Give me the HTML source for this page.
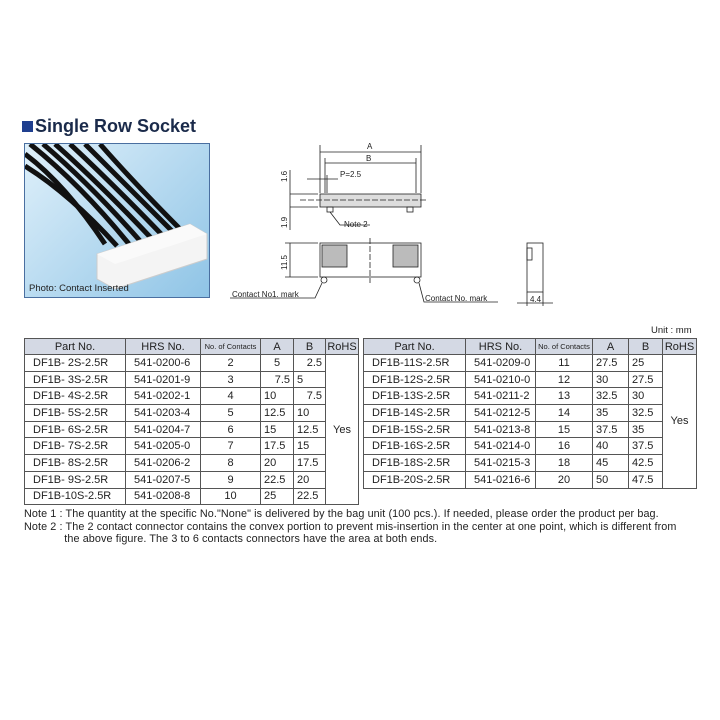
<!DOCTYPE html>
<html><head><style>
body{margin:0;width:720px;height:720px;background:#fff;position:relative;font-family:"Liberation Sans",sans-serif;overflow:hidden}
.t{position:absolute;left:22px;top:116px;font-size:18px;font-weight:bold;color:#1a2a4a}
.t span{display:inline-block;width:11px;height:11px;background:#1f3f8f;margin-right:2px}
.photo{position:absolute;left:24px;top:143px;width:184px;height:153px;border:1px solid #4a6fa0;background:linear-gradient(135deg,#dff0fa,#8fc4e6);overflow:hidden}
.photo .c{position:absolute;left:4px;bottom:3px;font-size:9.5px;color:#222}
table{position:absolute;border-collapse:collapse;font-size:11px;color:#222;table-layout:fixed}
td,th{border:1px solid #555;height:15.7px;padding:0 3px;font-weight:normal;white-space:nowrap;overflow:hidden}
td:first-child{padding-left:8px}
td:nth-child(2){padding-left:8px}
th{background:#d4d9e4;height:15px;padding:0}
.sm{font-size:7.5px}
.n{position:absolute;left:24px;font-size:10.8px;color:#222;white-space:pre;letter-spacing:0.1px}
</style></head><body>
<div class="t"><span></span>Single Row Socket</div>
<div class="photo">
<svg width="184" height="153" style="position:absolute;left:0;top:0">
<g stroke="#111" stroke-width="5" fill="none">
<path d="M0 10 Q40 40 80 100"/><path d="M0 22 Q45 50 92 102"/><path d="M5 0 Q55 40 104 100"/><path d="M18 0 Q65 40 116 98"/><path d="M30 0 Q75 40 128 96"/><path d="M45 0 Q88 40 140 94"/><path d="M60 0 Q100 40 152 92"/><path d="M75 0 Q110 40 160 90"/>
</g>
<polygon points="72,110 165,80 182,90 182,115 90,145 72,135" fill="#f4f4f4" stroke="#ccc"/>
<polygon points="72,110 165,80 182,90 90,120" fill="#fafafa"/>
</svg>
<div class="c">Photo: Contact Inserted</div></div>
<svg width="720" height="720" style="position:absolute;left:0;top:0" font-family="Liberation Sans" font-size="8" fill="#222">
<g stroke="#222" stroke-width="0.8" fill="none">
<line x1="320" y1="145" x2="320" y2="193"/><line x1="421" y1="145" x2="421" y2="193"/>
<line x1="320" y1="152" x2="421" y2="152"/><line x1="325" y1="163" x2="416" y2="163"/>
<line x1="325" y1="158" x2="325" y2="193"/><line x1="416" y1="158" x2="416" y2="193"/>
<line x1="307" y1="179" x2="338" y2="179"/><line x1="327" y1="175" x2="327" y2="193"/>
<rect x="320" y="194" width="101" height="13" fill="#ddd"/>
<line x1="300" y1="200" x2="428" y2="200" stroke-dasharray="6,2"/>
<line x1="290" y1="194" x2="318" y2="194"/><line x1="290" y1="207" x2="318" y2="207"/>
<line x1="290" y1="170" x2="290" y2="230"/>
<rect x="327" y="207" width="6" height="5"/><rect x="407" y="207" width="6" height="5"/>
<polyline points="330,212 340,225 370,225"/>
<rect x="320" y="243" width="101" height="34"/>
<rect x="322" y="245" width="25" height="22" fill="#bbb"/><rect x="393" y="245" width="25" height="22" fill="#bbb"/>
<line x1="370" y1="238" x2="370" y2="283" stroke-dasharray="6,2"/>
<line x1="285" y1="243" x2="318" y2="243"/><line x1="285" y1="277" x2="318" y2="277"/>
<line x1="290" y1="243" x2="290" y2="277"/>
<circle cx="324" cy="280" r="3"/><circle cx="417" cy="280" r="3"/>
<polyline points="322,283 315,298 230,298"/><polyline points="419,283 424,302 498,302"/>
<rect x="527" y="243" width="16" height="49"/><rect x="527" y="248" width="5" height="12"/>
<line x1="527" y1="292" x2="527" y2="306"/><line x1="543" y1="292" x2="543" y2="306"/>
<line x1="517" y1="303" x2="553" y2="303"/>
</g>
<text x="367" y="149">A</text><text x="366" y="161">B</text><text x="340" y="177">P=2.5</text>
<text x="344" y="227">Note 2</text>
<text x="287" y="182" transform="rotate(-90 287 182)">1.6</text>
<text x="287" y="228" transform="rotate(-90 287 228)">1.9</text>
<text x="287" y="270" transform="rotate(-90 287 270)">11.5</text>
<text x="232" y="297">Contact No1. mark</text><text x="425" y="301">Contact No. mark</text>
<text x="530" y="302">4.4</text>
<text x="651" y="333" font-size="9.5">Unit : mm</text>
</svg>
<table style="left:24px;top:338px;width:334px">
<colgroup><col style="width:101px"><col style="width:75px"><col style="width:60px"><col style="width:33px"><col style="width:32px"><col style="width:33px"></colgroup>
<tr><th>Part No.</th><th>HRS No.</th><th class="sm">No. of Contacts</th><th>A</th><th>B</th><th>RoHS</th></tr>
<tr><td>DF1B- 2S-2.5R</td><td>541-0200-6</td><td align="center">2</td><td align="center">5</td><td align="right">2.5</td><td rowspan="9" align="center">Yes</td></tr>
<tr><td>DF1B- 3S-2.5R</td><td>541-0201-9</td><td align="center">3</td><td align="right">7.5</td><td>5</td></tr>
<tr><td>DF1B- 4S-2.5R</td><td>541-0202-1</td><td align="center">4</td><td>10</td><td align="right">7.5</td></tr>
<tr><td>DF1B- 5S-2.5R</td><td>541-0203-4</td><td align="center">5</td><td>12.5</td><td>10</td></tr>
<tr><td>DF1B- 6S-2.5R</td><td>541-0204-7</td><td align="center">6</td><td>15</td><td>12.5</td></tr>
<tr><td>DF1B- 7S-2.5R</td><td>541-0205-0</td><td align="center">7</td><td>17.5</td><td>15</td></tr>
<tr><td>DF1B- 8S-2.5R</td><td>541-0206-2</td><td align="center">8</td><td>20</td><td>17.5</td></tr>
<tr><td>DF1B- 9S-2.5R</td><td>541-0207-5</td><td align="center">9</td><td>22.5</td><td>20</td></tr>
<tr><td>DF1B-10S-2.5R</td><td>541-0208-8</td><td align="center">10</td><td>25</td><td>22.5</td></tr>
</table>
<table style="left:363px;top:338px;width:333px">
<colgroup><col style="width:102px"><col style="width:70px"><col style="width:57px"><col style="width:36px"><col style="width:34px"><col style="width:34px"></colgroup>
<tr><th>Part No.</th><th>HRS No.</th><th class="sm">No. of Contacts</th><th>A</th><th>B</th><th>RoHS</th></tr>
<tr><td>DF1B-11S-2.5R</td><td>541-0209-0</td><td align="center">11</td><td>27.5</td><td>25</td><td rowspan="8" align="center">Yes</td></tr>
<tr><td>DF1B-12S-2.5R</td><td>541-0210-0</td><td align="center">12</td><td>30</td><td>27.5</td></tr>
<tr><td>DF1B-13S-2.5R</td><td>541-0211-2</td><td align="center">13</td><td>32.5</td><td>30</td></tr>
<tr><td>DF1B-14S-2.5R</td><td>541-0212-5</td><td align="center">14</td><td>35</td><td>32.5</td></tr>
<tr><td>DF1B-15S-2.5R</td><td>541-0213-8</td><td align="center">15</td><td>37.5</td><td>35</td></tr>
<tr><td>DF1B-16S-2.5R</td><td>541-0214-0</td><td align="center">16</td><td>40</td><td>37.5</td></tr>
<tr><td>DF1B-18S-2.5R</td><td>541-0215-3</td><td align="center">18</td><td>45</td><td>42.5</td></tr>
<tr><td>DF1B-20S-2.5R</td><td>541-0216-6</td><td align="center">20</td><td>50</td><td>47.5</td></tr>
</table>
<div class="n" style="top:508px">Note 1 : The quantity at the specific No."None" is delivered by the bag unit (100 pcs.). If needed, please order the product per bag.</div>
<div class="n" style="top:521px">Note 2 : The 2 contact connector contains the convex portion to prevent mis-insertion in the center at one point, which is different from</div>
<div class="n" style="top:533px">             the above figure. The 3 to 6 contacts connectors have the area at both ends.</div>
</body></html>
